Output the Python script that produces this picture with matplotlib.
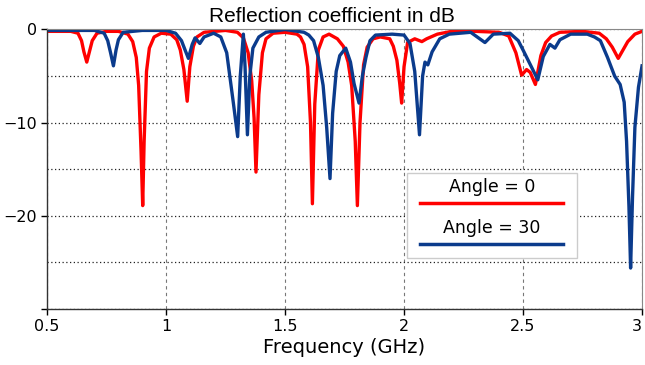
import numpy as np
import matplotlib.pyplot as plt

# Values (GHz, dB)
freq_0 = [0.50, 0.60, 0.63, 0.645, 0.655, 0.667, 0.68, 0.69, 0.71, 0.75, 0.80, 0.84, 0.86, 0.875,
          0.885, 0.895, 0.902, 0.908, 0.918, 0.93, 0.95, 0.98, 1.02, 1.045, 1.06, 1.075, 1.089,
          1.10, 1.115, 1.13, 1.16, 1.25, 1.30, 1.325, 1.345, 1.36, 1.37, 1.378, 1.39, 1.405, 1.42,
          1.45, 1.50, 1.55, 1.565, 1.58, 1.595, 1.607, 1.615, 1.625, 1.64, 1.66, 1.685, 1.72,
          1.745, 1.765, 1.78, 1.795, 1.804, 1.815, 1.83, 1.845, 1.87, 1.90, 1.94, 1.955, 1.97,
          1.982, 1.99, 2.00, 2.015, 2.045, 2.075, 2.095, 2.14, 2.20, 2.30, 2.40, 2.44, 2.47, 2.494,
          2.515, 2.53, 2.552, 2.575, 2.595, 2.62, 2.655, 2.75, 2.82, 2.85, 2.875, 2.90, 2.92,
          2.94, 2.97, 3.00]
db_0 = [-0.2, -0.2, -0.4, -1.2, -2.4, -3.5, -2.2, -1.2, -0.4, -0.2, -0.2, -0.5, -1.3, -3.0,
        -6.0, -13.0, -18.9, -12.0, -4.5, -2.0, -0.8, -0.4, -0.5, -1.1, -2.2, -4.3, -7.7,
        -4.0, -1.8, -0.8, -0.3, -0.1, -0.3, -0.9, -2.5, -5.5, -9.5, -15.3, -7.0, -2.5, -1.0,
        -0.4, -0.3, -0.5, -0.8, -1.6, -4.0, -10.0, -18.7, -8.0, -2.2, -0.8, -0.5, -1.0,
        -1.8, -3.5, -6.0, -12.0, -18.9, -10.0, -3.8, -1.9, -1.0, -0.8, -1.0, -1.8, -3.3,
        -5.8, -7.9, -4.0, -1.4, -1.0, -1.3, -1.0, -0.5, -0.2, -0.2, -0.3, -0.7, -2.5, -4.9,
        -4.3, -4.6, -5.9, -2.8, -1.4, -0.7, -0.3, -0.2, -0.4, -1.0, -1.9, -3.1, -2.2,
        -1.3, -0.5, -0.2]

freq_30 = [0.50, 0.70, 0.74, 0.755, 0.767, 0.779, 0.79, 0.80, 0.82, 0.90, 1.00, 1.04, 1.065, 1.08,
           1.094, 1.11, 1.122, 1.142, 1.16, 1.20, 1.23, 1.255, 1.283, 1.301, 1.312, 1.325, 1.332,
           1.342, 1.352, 1.365, 1.39, 1.42, 1.50, 1.58, 1.60, 1.62, 1.64, 1.66, 1.675, 1.689, 1.70,
           1.715, 1.73, 1.755, 1.775, 1.79, 1.811, 1.825, 1.84, 1.857, 1.88, 1.95, 2.00, 2.025,
           2.045, 2.065, 2.078, 2.088, 2.10, 2.118, 2.15, 2.19, 2.28, 2.34, 2.375, 2.445, 2.48,
           2.50, 2.535, 2.562, 2.585, 2.613, 2.634, 2.655, 2.70, 2.77, 2.80, 2.825, 2.855, 2.885,
           2.908, 2.925, 2.935, 2.945, 2.952, 2.96, 2.97, 2.985, 3.00]
db_30 = [-0.1, -0.1, -0.4, -1.2, -2.5, -3.9, -2.2, -1.1, -0.3, -0.1, -0.1, -0.4, -1.2, -2.2,
         -3.1, -1.6, -0.9, -1.5, -0.8, -0.4, -0.8, -2.5, -7.9, -11.5, -5.0, -0.5, -4.0,
         -11.3, -5.0, -2.0, -0.8, -0.3, 0.0, -0.3, -0.6, -1.2, -3.0, -6.0, -10.5, -16.0,
         -9.0, -4.5, -2.8, -2.0, -3.5, -5.8, -7.9, -5.0, -3.0, -1.2, -0.6, -0.5, -0.6,
         -1.5, -4.5, -11.3, -5.0, -3.5, -3.8, -2.4, -1.0, -0.5, -0.3, -1.4, -0.5, -0.4,
         -1.2, -2.2, -4.0, -5.4, -2.9, -1.6, -2.0, -1.1, -0.5, -0.5, -0.8, -1.2, -3.0,
         -5.0, -5.9, -7.8, -12.0, -19.0, -25.6, -18.0, -10.5, -6.2, -3.9]

labels = ['Angle = 0', 'Angle = 30']
colors = ['#ff0000', '#0b3b8c']
xticks = [0.5, 1, 1.5, 2, 2.5, 3]
xticklabels = ['0.5', '1', '1.5', '2', '2.5', '3']
yticks = [0, -10, -20, -30]
yticklabels = ['0', '\u221210', '\u221220', '']

fig = plt.figure(figsize=(6.45, 3.65), dpi=100)
ax = fig.add_axes([0.0729, 0.1534, 0.9225, 0.7658])

ax.plot(freq_0, db_0, color=colors[0], lw=2.4, solid_joinstyle='round')
ax.plot(freq_30, db_30, color=colors[1], lw=2.4, solid_joinstyle='round')

ax.set_xlim(0.5, 3)
ax.set_ylim(-30, 0)
ax.set_xticks(xticks)
ax.set_xticklabels(xticklabels, fontsize=11.5)
ax.get_xticklabels()[-1].set_horizontalalignment('right')
ax.set_yticks(yticks)
ax.set_yticklabels(yticklabels, fontsize=11.5)
ax.set_yticks([-5, -15, -25], minor=True)
ax.tick_params(axis='both', which='major', length=4, width=1, direction='out', pad=3)
ax.tick_params(axis='y', which='minor', length=0)

# grid: dotted black horizontals, dashed grey verticals
ax.set_axisbelow(True)
ax.grid(axis='y', which='both', linestyle=(0, (1, 2)), color='#222222', lw=0.9)
ax.grid(axis='x', which='major', linestyle=(0, (3, 3)), color='#777777', lw=0.8)

for s in ['top', 'right']:
    ax.spines[s].set_color('#888888')
    ax.spines[s].set_linewidth(0.8)
for s in ['left', 'bottom']:
    ax.spines[s].set_color('#333333')
    ax.spines[s].set_linewidth(1.0)

ax.set_xlabel('Frequency (GHz)', fontsize=14, labelpad=3)
fig.text(0.515, 0.940, 'Reflection coefficient in dB', ha='center', va='baseline',
         fontsize=15, family='Liberation Sans')

# legend box with text above each line
box = plt.Rectangle((0.605, 0.182), 0.286, 0.305, transform=ax.transAxes,
                    facecolor='white', edgecolor='#cccccc', lw=1.0, zorder=5)
ax.add_patch(box)
for i, (lab, c) in enumerate(zip(labels, colors)):
    ty = 0.436 - i * 0.146
    ly = 0.379 - i * 0.146
    ax.text(0.748, ty, lab, transform=ax.transAxes, ha='center', va='center',
            fontsize=12.5, zorder=6)
    ax.plot([0.627, 0.867], [ly, ly], transform=ax.transAxes, color=c, lw=2.5,
            zorder=6, clip_on=False)

fig.savefig('out.png', dpi=100)
